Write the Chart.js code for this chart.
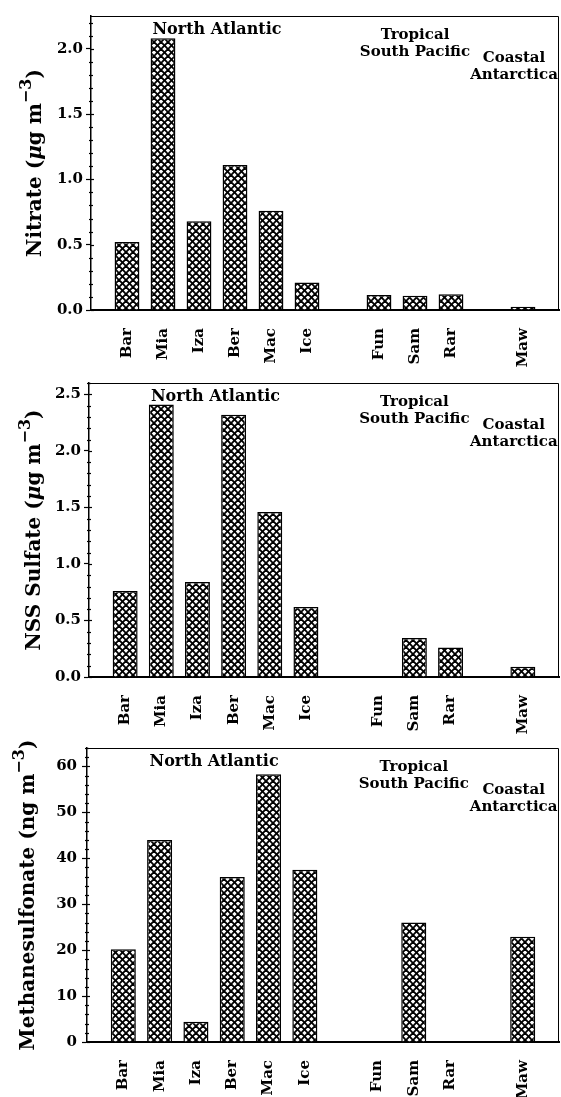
<!DOCTYPE html>
<html>
<head>
<meta charset="utf-8">
<script src="https://cdn.jsdelivr.net/npm/chart.js@4.4.1/dist/chart.umd.min.js"></script>
<style>
  html, body { margin: 0; padding: 0; background: #fff; }
  #wrap { position: relative; width: 561px; height: 1097px; overflow: hidden; }
  canvas { position: absolute; left: 0; }
</style>
</head>
<body>
<div id="wrap">
  <canvas id="nitrate" width="561" height="376" style="top:0"></canvas>
  <canvas id="sulfate" width="561" height="376" style="top:367px"></canvas>
  <canvas id="msa" width="561" height="365" style="top:732px"></canvas>
</div>
<script>
const SERIF = '"DejaVu Serif", "Liberation Serif", serif';

const stations = ['Bar', 'Mia', 'Iza', 'Ber', 'Mac', 'Ice', '', 'Fun', 'Sam', 'Rar', '', 'Maw'];
const nitrate = [0.52, 2.08, 0.68, 1.11, 0.76, 0.21, null, 0.115, 0.11, 0.12, null, 0.025];
const sulfate = [0.76, 2.41, 0.84, 2.32, 1.46, 0.62, null, null, 0.345, 0.26, null, 0.09];
const msa = [20.2, 44.0, 4.4, 35.9, 58.3, 37.5, null, null, 26.0, null, null, 22.9];

const nitrateTicks = ['0.0', '0.5', '1.0', '1.5', '2.0'];
const sulfateTicks = ['0.0', '0.5', '1.0', '1.5', '2.0', '2.5'];
const msaTicks = ['0', '10', '20', '30', '40', '50', '60'];

const regions = [['North Atlantic'], ['Tropical', 'South Pacific'], ['Coastal', 'Antarctica']];

// title pieces: n = normal, i = italic, s = superscript
const nitrateTitle = [['Nitrate (', 'n'], ['μ', 'i'], ['g m', 'n'], ['−3', 's'], [')', 'n']];
const sulfateTitle = [['NSS Sulfate (', 'n'], ['μ', 'i'], ['g m', 'n'], ['−3', 's'], [')', 'n']];
const msaTitle = [['Methanesulfonate (ng m', 'n'], ['−3', 's'], [')', 'n']];

// where the region names sit: x in category units, dy below the frame top
const regionPos = [
  { x: 3.5, dy: 14, size: 16 },
  { x: 9, dy: 19, size: 15 },
  { x: 11.75, dy: 42, size: 15 }
];

function hatch() {
  const s = 7;
  const c = document.createElement('canvas');
  c.width = s; c.height = s;
  const g = c.getContext('2d');
  g.fillStyle = '#fff';
  g.fillRect(0, 0, s, s);
  g.strokeStyle = '#000';
  g.lineWidth = 1.9;
  for (const o of [-s, 0, s]) {
    g.beginPath(); g.moveTo(o, 0); g.lineTo(o + s, s); g.stroke();
    g.beginPath(); g.moveTo(o + s, 0); g.lineTo(o, s); g.stroke();
  }
  return g.createPattern(c, 'repeat');
}
const pattern = hatch();

function drawTitle(ctx, parts, cx, cy, size) {
  const fontFor = (k) => k === 'i' ? `bold italic ${size}px ${SERIF}`
    : k === 's' ? `bold ${Math.round(size * 0.78)}px ${SERIF}` : `bold ${size}px ${SERIF}`;
  let total = 0;
  const widths = parts.map(([t, k]) => { ctx.font = fontFor(k); const w = ctx.measureText(t).width; total += w; return w; });
  ctx.save();
  ctx.translate(cx, cy);
  ctx.rotate(-Math.PI / 2);
  ctx.textAlign = 'left';
  ctx.textBaseline = 'alphabetic';
  let x = -total / 2;
  parts.forEach(([t, k], i) => {
    ctx.font = fontFor(k);
    ctx.fillText(t, x, k === 's' ? -size * 0.5 : 0);
    x += widths[i];
  });
  ctx.restore();
}

function panel(id, values, tickLabels, title, o) {
  const canvas = document.getElementById(id);
  const tickText = (v) => tickLabels.find((s) => Math.abs(Number(s) - v) < 1e-6) || '';

  const deco = {
    id: 'deco',
    afterDraw(chart) {
      const { ctx, chartArea: a, scales: { x, y } } = chart;
      ctx.save();
      ctx.strokeStyle = '#000';
      ctx.lineWidth = 1;
      ctx.beginPath();
      ctx.moveTo(a.left, a.top + 0.5);
      ctx.lineTo(a.right - 0.5, a.top + 0.5);
      ctx.lineTo(a.right - 0.5, a.bottom);
      ctx.stroke();

      ctx.lineWidth = 1.2;
      y.ticks.forEach((t) => {
        const py = Math.round(y.getPixelForValue(t.value)) + 0.5;
        const major = tickText(t.value) !== '';
        ctx.beginPath();
        ctx.moveTo(a.left - (major ? 0 : 2), py);
        ctx.lineTo(a.left + (major ? 3 : 2), py);
        ctx.stroke();
      });

      ctx.fillStyle = '#000';
      ctx.textAlign = 'center';
      ctx.textBaseline = 'middle';
      regionPos.forEach((r, i) => {
        ctx.font = `bold ${r.size}px ${SERIF}`;
        const px = x.getPixelForValue(r.x);
        regions[i].forEach((line, j) => ctx.fillText(line, px, a.top + r.dy + j * 17));
      });

      drawTitle(ctx, title, o.titleX, (a.top + a.bottom) / 2, 20);
      ctx.restore();
    }
  };

  return new Chart(canvas, {
    type: 'bar',
    data: {
      labels: ['', ...stations, ''],
      datasets: [{
        data: [null, ...values, null],
        backgroundColor: pattern,
        borderColor: '#000',
        borderWidth: 1.5,
        categoryPercentage: 1,
        barPercentage: 0.69
      }]
    },
    options: {
      responsive: false,
      animation: false,
      devicePixelRatio: 1,
      layout: { padding: { top: 16, right: 2, left: 0, bottom: 0 } },
      plugins: { legend: { display: false }, tooltip: { enabled: false } },
      scales: {
        x: {
          type: 'category',
          offset: false,
          grid: { display: false },
          border: { display: true, color: '#000', width: 2 },
          ticks: {
            autoSkip: false,
            minRotation: 90,
            maxRotation: 90,
            padding: 10,
            color: '#000',
            font: { family: SERIF, size: 15, weight: 'bold' }
          },
          afterFit: (s) => { s.height = canvas.height - 310; s.paddingLeft = 0; s.paddingRight = 0; }
        },
        y: {
          min: 0,
          max: o.max,
          grid: {
            drawOnChartArea: false,
            drawTicks: true,
            tickLength: 5,
            tickWidth: 1.2,
            tickColor: (c) => tickText(c.tick.value) ? '#000' : 'rgba(0,0,0,0)'
          },
          border: { display: true, color: '#000', width: 1.5 },
          ticks: {
            stepSize: o.step,
            includeBounds: false,
            autoSkip: false,
            padding: o.tickPad,
            color: '#000',
            font: { family: SERIF, size: 15, weight: 'bold' },
            callback: (v) => tickText(v)
          },
          afterFit: (s) => { s.width = o.left; s.paddingTop = 0; s.paddingBottom = 0; }
        }
      }
    },
    plugins: [deco]
  });
}

panel('nitrate', nitrate, nitrateTicks, nitrateTitle, { max: 2.25, step: 0.1, left: 91, tickPad: 3, titleX: 41 });
panel('sulfate', sulfate, sulfateTicks, sulfateTitle, { max: 2.6, step: 0.1, left: 89, tickPad: 3, titleX: 40 });
panel('msa', msa, msaTicks, msaTitle, { max: 64, step: 2, left: 87, tickPad: 5, titleX: 34 });
</script>
</body>
</html>
